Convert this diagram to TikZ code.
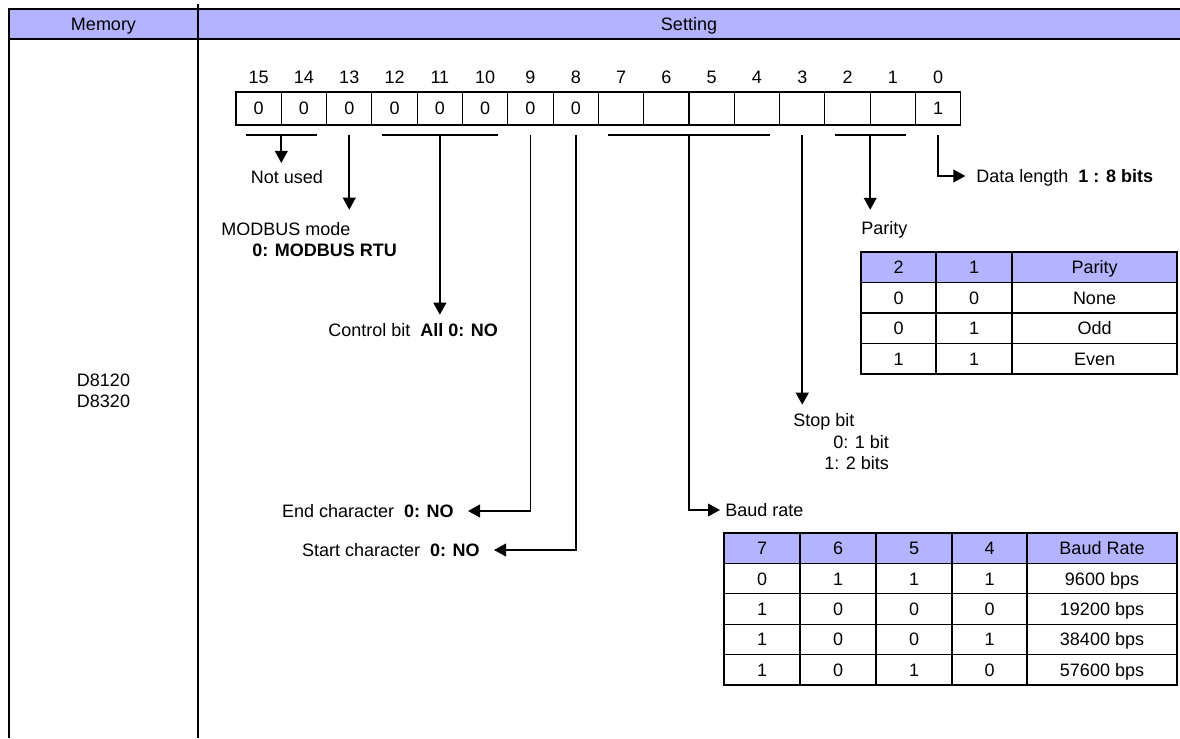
\documentclass[tikz,border=0pt]{standalone}
\usepackage{fontspec}
\setmainfont{Liberation Sans}
\usetikzlibrary{arrows.meta,positioning,calc}
\definecolor{hdrblue}{RGB}{179,179,255}
\newcommand{\lblfont}{\fontsize{13.5}{16}\selectfont}
\tikzset{
  bitbox/.style={rectangle, draw=black, line width=0.8pt, minimum width=33.98pt, minimum height=24.75pt,
                 inner sep=0pt, outer sep=0pt, font=\lblfont},
  bitnum/.style={inner sep=0pt, font=\lblfont, text height=9.7pt, text depth=0pt},
  cell/.style={rectangle, draw=black, line width=0.9pt, minimum width=#1*0.75pt, minimum height=22.85pt,
               inner sep=0pt, outer sep=0pt, font=\lblfont, text height=9.7pt, text depth=0pt},
  cell/.default=75,
  hcell/.style={cell=#1, fill=hdrblue},
  lbl/.style={inner sep=0pt, font=\lblfont, text height=9.7pt, text depth=0pt},
  ln/.style={line width=1.4pt},
  ar/.style={line width=1.4pt, -{Triangle[length=9pt, width=9.5pt]}},
}

\begin{document}
\begin{tikzpicture}[x=0.75pt, y=-0.75pt]
\useasboundingbox (0,0) rectangle (1180,738);
% outer table
\fill[hdrblue] (9,9) rectangle (1186,39);
\draw[line width=1.2pt] (9,738) -- (9,9) -- (1186,9);
\draw[line width=1.2pt] (9,39) -- (1186,39);
\draw[line width=1pt] (198,4) -- (198,738);
\node[lbl] (mem) at (103.5,24) {Memory};
\node[lbl] (set) at (689,24) {Setting};
\node[lbl] (dev1) at (103.5,380) {D8120};
\node[lbl] (dev2) at (103.5,401) {D8320};

% register bits 15 ... 0
\foreach \v [count=\i from 0] in {0,0,0,0,0,0,0,0,{},{},{},{},{},{},{},1}{
  \pgfmathtruncatemacro{\n}{15-\i}
  \node[bitbox] (b\n) at ({258.65+45.3*\i},108.5) {\v};
  \node[bitnum, above=6pt of b\n] (n\n) {\n};
}

% bits 15-14
\draw[ln] ([shift={(10,10)}]b15.south west) -- ([shift={(-10,10)}]b14.south east);
\coordinate (t1514) at ($(b15.south)!.5!(b14.south)+(0,10)$);
\node[lbl] (notused) at (287,177) {Not used};
\draw[ar, shorten >=5.5pt] (t1514) -- (t1514 |- notused.north);

% bit 13
\node[lbl, anchor=west] (modmode) at (221,229) {MODBUS mode};
\node[lbl, anchor=west] (modrtu) at (252,250) {\textbf{0: MODBUS RTU}};
\draw[ar, shorten <=7.5pt, shorten >=9.4pt] (b13.south) -- (b13.south |- modmode.north);

% bits 12-10
\draw[ln] ([shift={(10,10)}]b12.south west) -- ([shift={(-10,10)}]b10.south east);
\node[lbl, anchor=west] (ctrl) at (328,330) {Control bit\ \ \textbf{All 0: NO}};
\draw[ar, shorten <=7.5pt, shorten >=6.4pt] (b11.south) -- (b11.south |- ctrl.north);

% bits 9, 8
\node[lbl, anchor=east] (endch) at (454,511) {End character\ \ \textbf{0: NO}};
\draw[ar, shorten <=7.5pt, shorten >=10.5pt] (b9.south) |- (endch.east);
\node[lbl, anchor=east] (startch) at (480,550) {Start character\ \ \textbf{0: NO}};
\draw[ar, shorten <=7.5pt, shorten >=10.5pt] (b8.south) |- (startch.east);

% bits 7-4
\draw[ln] ([shift={(10,10)}]b7.south west) -- ([shift={(-10,10)}]b4.south east);
\coordinate (t74) at ($(b6.south)!.5!(b5.south)+(0,10)$);
\node[lbl, anchor=west] (baud) at (725,510) {Baud rate};
\draw[ar, shorten >=3.75pt] (t74) |- (baud.west);

% bit 3
\node[lbl, anchor=west] (stop) at (793,420) {Stop bit};
\node[lbl, anchor=west] (stop0) at (833,442) {0: 1 bit};
\node[lbl, anchor=west] (stop1) at (824,463) {1: 2 bits};
\draw[ar, shorten <=7.5pt, shorten >=6.4pt] (b3.south) -- (b3.south |- stop.north);

% bits 2-1
\draw[ln] ([shift={(10,10)}]b2.south west) -- ([shift={(-10,10)}]b1.south east);
\coordinate (t21) at ($(b2.south)!.5!(b1.south)+(0,10)$);
\node[lbl, anchor=west] (parlbl) at (861,228) {Parity};
\draw[ar, shorten >=8.6pt] (t21) -- (t21 |- parlbl.north);

% bit 0
\node[lbl, anchor=west] (dlen) at (976,176) {Data length\ \ \textbf{1 : 8 bits}};
\draw[ar, shorten <=7.5pt, shorten >=8pt] (b0.south) |- (dlen.west);

% parity table
\node[hcell=75] (ph1) at (898.5,267.25) {2};
\node[hcell=76] (ph2) at (974,267.25) {1};
\node[hcell=165] (ph3) at (1094.5,267.25) {Parity};
\foreach \a/\b/\c [count=\r] in {0/0/None, 0/1/Odd, 1/1/Even}{
  \node[cell=75] (p\r-1) at (898.5,{267.25+30.5*\r}) {\a};
  \node[cell=76] (p\r-2) at (974,{267.25+30.5*\r}) {\b};
  \node[cell=165] (p\r-3) at (1094.5,{267.25+30.5*\r}) {\c};
}

% baud rate table
\node[hcell=76] (bh1) at (762,548.2) {7};
\node[hcell=76] (bh2) at (838,548.2) {6};
\node[hcell=76] (bh3) at (914,548.2) {5};
\node[hcell=75] (bh4) at (989.5,548.2) {4};
\node[hcell=150] (bh5) at (1102,548.2) {Baud Rate};
\foreach \a/\b/\c/\d/\e [count=\r] in {0/1/1/1/9600 bps, 1/0/0/0/19200 bps, 1/0/0/1/38400 bps, 1/0/1/0/57600 bps}{
  \node[cell=76] (r\r-1) at (762,{548.2+30.4*\r}) {\a};
  \node[cell=76] (r\r-2) at (838,{548.2+30.4*\r}) {\b};
  \node[cell=76] (r\r-3) at (914,{548.2+30.4*\r}) {\c};
  \node[cell=75] (r\r-4) at (989.5,{548.2+30.4*\r}) {\d};
  \node[cell=150] (r\r-5) at (1102,{548.2+30.4*\r}) {\e};
}
\end{tikzpicture}
\end{document}
